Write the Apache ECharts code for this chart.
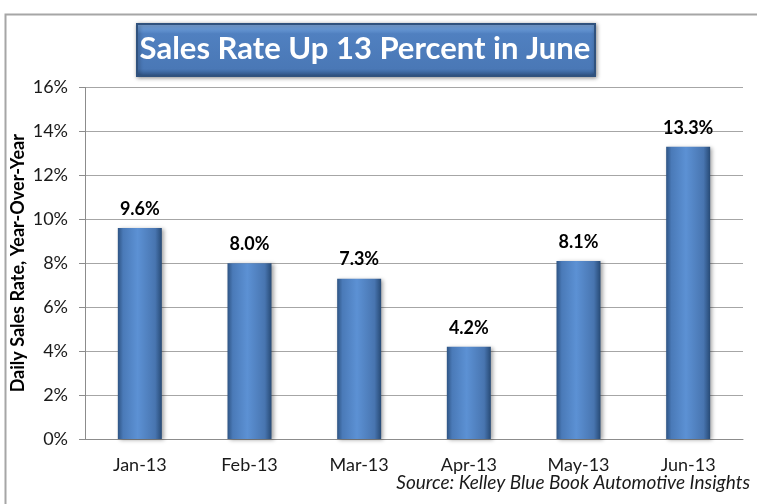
<!DOCTYPE html>
<html>
<head>
<meta charset="utf-8">
<script src="https://cdn.jsdelivr.net/npm/echarts@6/dist/echarts.min.js"></script>
<style>
  html, body { margin: 0; padding: 0; background: #fff; }
  #chart { width: 757px; height: 504px; }
</style>
</head>
<body>
<div id="chart"></div>
<script>
// 数据
var months = ["Jan-13", "Feb-13", "Mar-13", "Apr-13", "May-13", "Jun-13"];
var salesRate = [9.6, 8.0, 7.3, 4.2, 8.1, 13.3];
var yTicks = [0, 2, 4, 6, 8, 10, 12, 14, 16];

(function() {
  var myChart = echarts.init(document.getElementById("chart"));
  var font = "Lato, 'Open Sans', sans-serif";

  // 柱子的立体渐变
  var barColor = new echarts.graphic.LinearGradient(0, 0, 1, 0, [
    { offset: 0, color: "#2e5484" },
    { offset: 0.12, color: "#4a7ab8" },
    { offset: 0.45, color: "#5c91d4" },
    { offset: 0.85, color: "#4875b0" },
    { offset: 1, color: "#274a75" }
  ]);

  var option = {
    backgroundColor: "#fff",
    animation: false,
    grid: {
      left: 85,
      right: 14,
      top: 87.5,
      bottom: 65,
      containLabel: false,
      outerBoundsMode: "none"
    },
    graphic: [
      // 外框
      {
        type: "rect",
        left: 3,
        top: 12,
        shape: { width: 770, height: 520 },
        style: { fill: "none", stroke: "#a6a6a6", lineWidth: 2 },
        z: 0
      },
      // 标题背景
      {
        type: "rect",
        left: 136,
        top: 23,
        shape: { width: 458, height: 52 },
        style: {
          fill: new echarts.graphic.LinearGradient(0, 0, 0, 1, [
            { offset: 0, color: "#8db4e6" },
            { offset: 0.1, color: "#6a9ad6" },
            { offset: 0.2, color: "#5080c0" },
            { offset: 0.85, color: "#4a78b6" },
            { offset: 1, color: "#2f5586" }
          ]),
          stroke: "#30527e",
          lineWidth: 2,
          shadowBlur: 4,
          shadowColor: "rgba(0,0,0,0.4)",
          shadowOffsetX: 1,
          shadowOffsetY: 1
        },
        z: 10
      },
      {
        type: "text",
        x: 365,
        y: 49,
        style: {
          text: "Sales Rate Up 13 Percent in June",
          fill: "#fff",
          font: "bold 31px " + font,
          align: "center",
          verticalAlign: "middle"
        },
        z: 11
      },
      // 数据来源
      {
        type: "text",
        right: 7,
        top: 473,
        style: {
          text: "Source: Kelley Blue Book Automotive Insights",
          fill: "#1a1a1a",
          font: "italic 19px " + font
        }
      }
    ],
    xAxis: {
      type: "category",
      data: months,
      axisLine: { lineStyle: { color: "#8c8c8c", width: 1 } },
      axisTick: { length: 6, lineStyle: { color: "#8c8c8c" } },
      axisLabel: {
        color: "#1a1a1a",
        fontSize: 18,
        fontFamily: font,
        margin: 17
      }
    },
    yAxis: {
      type: "value",
      min: yTicks[0],
      max: yTicks[yTicks.length - 1],
      interval: 2,
      name: "Daily Sales Rate, Year-Over-Year",
      nameLocation: "middle",
      nameGap: 58,
      nameMoveOverlap: false,
      nameTextStyle: {
        color: "#000",
        fontSize: 18,
        fontWeight: "bold",
        fontFamily: font
      },
      axisLine: { show: true, lineStyle: { color: "#8c8c8c", width: 1 } },
      axisTick: { show: true, length: 6, lineStyle: { color: "#8c8c8c" } },
      axisLabel: {
        color: "#1a1a1a",
        fontSize: 18,
        fontFamily: font,
        margin: 17,
        formatter: "{value}%"
      },
      splitLine: { lineStyle: { color: "#a6a6a6", width: 1 } }
    },
    series: [
      {
        type: "bar",
        data: salesRate,
        barWidth: 44,
        itemStyle: {
          color: barColor,
          shadowBlur: 4,
          shadowColor: "rgba(0,0,0,0.35)",
          shadowOffsetX: 2,
          shadowOffsetY: 1
        },
        label: {
          show: true,
          position: "top",
          distance: 10,
          color: "#000",
          fontSize: 18,
          fontWeight: "bold",
          fontFamily: font,
          formatter: function(p) {
            return p.value.toFixed(1) + "%";
          }
        }
      }
    ]
  };

  myChart.setOption(option);
  window.addEventListener("resize", function() {
    myChart.resize();
  });
})();
</script>
</body>
</html>
